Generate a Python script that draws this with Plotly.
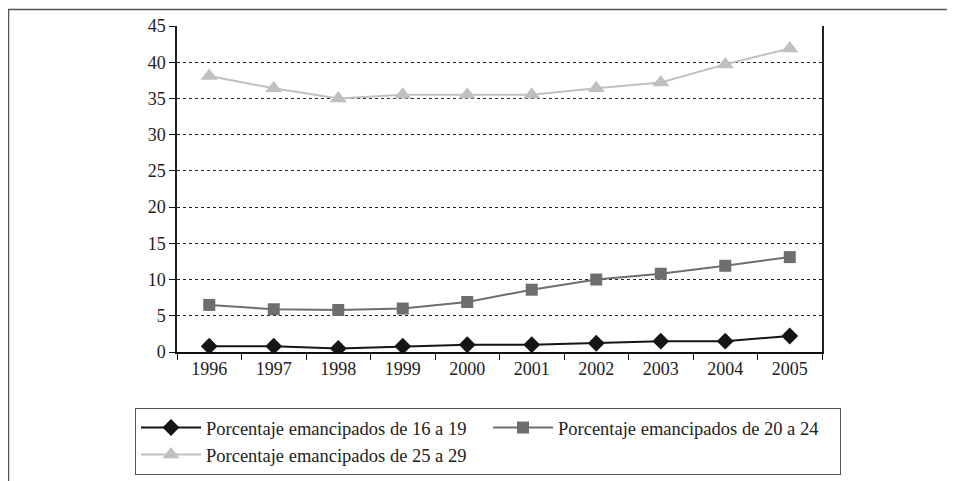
import plotly.graph_objects as go

years = ["1996", "1997", "1998", "1999", "2000", "2001", "2002", "2003", "2004", "2005"]
s16_19 = [0.8, 0.8, 0.5, 0.8, 1.0, 1.0, 1.2, 1.5, 1.5, 2.2]
s20_24 = [6.5, 5.9, 5.8, 6.0, 6.9, 8.6, 10.0, 10.8, 11.9, 13.1]
s25_29 = [38.1, 36.4, 35.0, 35.5, 35.5, 35.5, 36.4, 37.2, 39.7, 41.9]
names = ["Porcentaje emancipados de 16 a 19",
         "Porcentaje emancipados de 20 a 24",
         "Porcentaje emancipados de 25 a 29"]
y_ticks = [0, 5, 10, 15, 20, 25, 30, 35, 40, 45]

FONT = "Liberation Serif, Times New Roman, Times, serif"

fig = go.Figure()
fig.add_trace(go.Scatter(x=years, y=s16_19, name=names[0], mode="lines+markers",
                         line=dict(color="#151515", width=2),
                         marker=dict(symbol="diamond", size=13, color="#151515")))
fig.add_trace(go.Scatter(x=years, y=s20_24, name=names[1], mode="lines+markers",
                         line=dict(color="#6e6e6e", width=2),
                         marker=dict(symbol="square", size=12, color="#6e6e6e")))
fig.add_trace(go.Scatter(x=years, y=s25_29, name=names[2], mode="lines+markers",
                         line=dict(color="#c0c0c0", width=2),
                         marker=dict(symbol="triangle-up", size=15, color="#c0c0c0")))

OFF = 8  # page body margin
W, H = 955 - OFF, 481 - OFF
L, T = 177 - OFF, 26 - OFF
pw, ph = 645, 326
R, B = W - L - pw, H - T - ph

def px(x):
    return (x - OFF - L) / pw

def py(y):
    return (T + ph - (y - OFF)) / ph

fig.update_layout(
    width=W, height=H,
    margin=dict(l=L, r=R, t=T, b=B, autoexpand=False),
    paper_bgcolor="white", plot_bgcolor="white",
    font=dict(family=FONT, size=18, color="#222222"),
    showlegend=True,
    legend=dict(orientation="h", x=px(135), y=py(408), xanchor="left", yanchor="top",
                bordercolor="#555555", borderwidth=1, font=dict(family=FONT, size=18.5),
                itemwidth=60, entrywidth=277, entrywidthmode="pixels", tracegroupgap=0,
                traceorder="normal"),
    xaxis=dict(type="category", range=[-0.5, 9.5], showgrid=False,
               showline=True, linecolor="#111111", linewidth=1.5,
               ticks="outside", ticklen=6, tickcolor="#111111",
               tickson="boundaries", zeroline=False),
    yaxis=dict(range=[0, 45], tickvals=y_ticks, showgrid=True,
               gridcolor="#222222", griddash="dot", gridwidth=1,
               showline=True, linecolor="#222222", linewidth=1.5, mirror=True,
               ticks="outside", ticklen=6, tickcolor="#111111", zeroline=False),
    shapes=[
        dict(type="line", xref="paper", yref="paper", x0=px(8), x1=px(955), y0=py(9.5), y1=py(9.5),
             line=dict(color="#555555", width=1.5)),
        dict(type="line", xref="paper", yref="paper", x0=px(8.5), x1=px(8.5), y0=py(9), y1=py(481),
             line=dict(color="#555555", width=1.5)),
    ],
)

fig.write_html("out.html")
